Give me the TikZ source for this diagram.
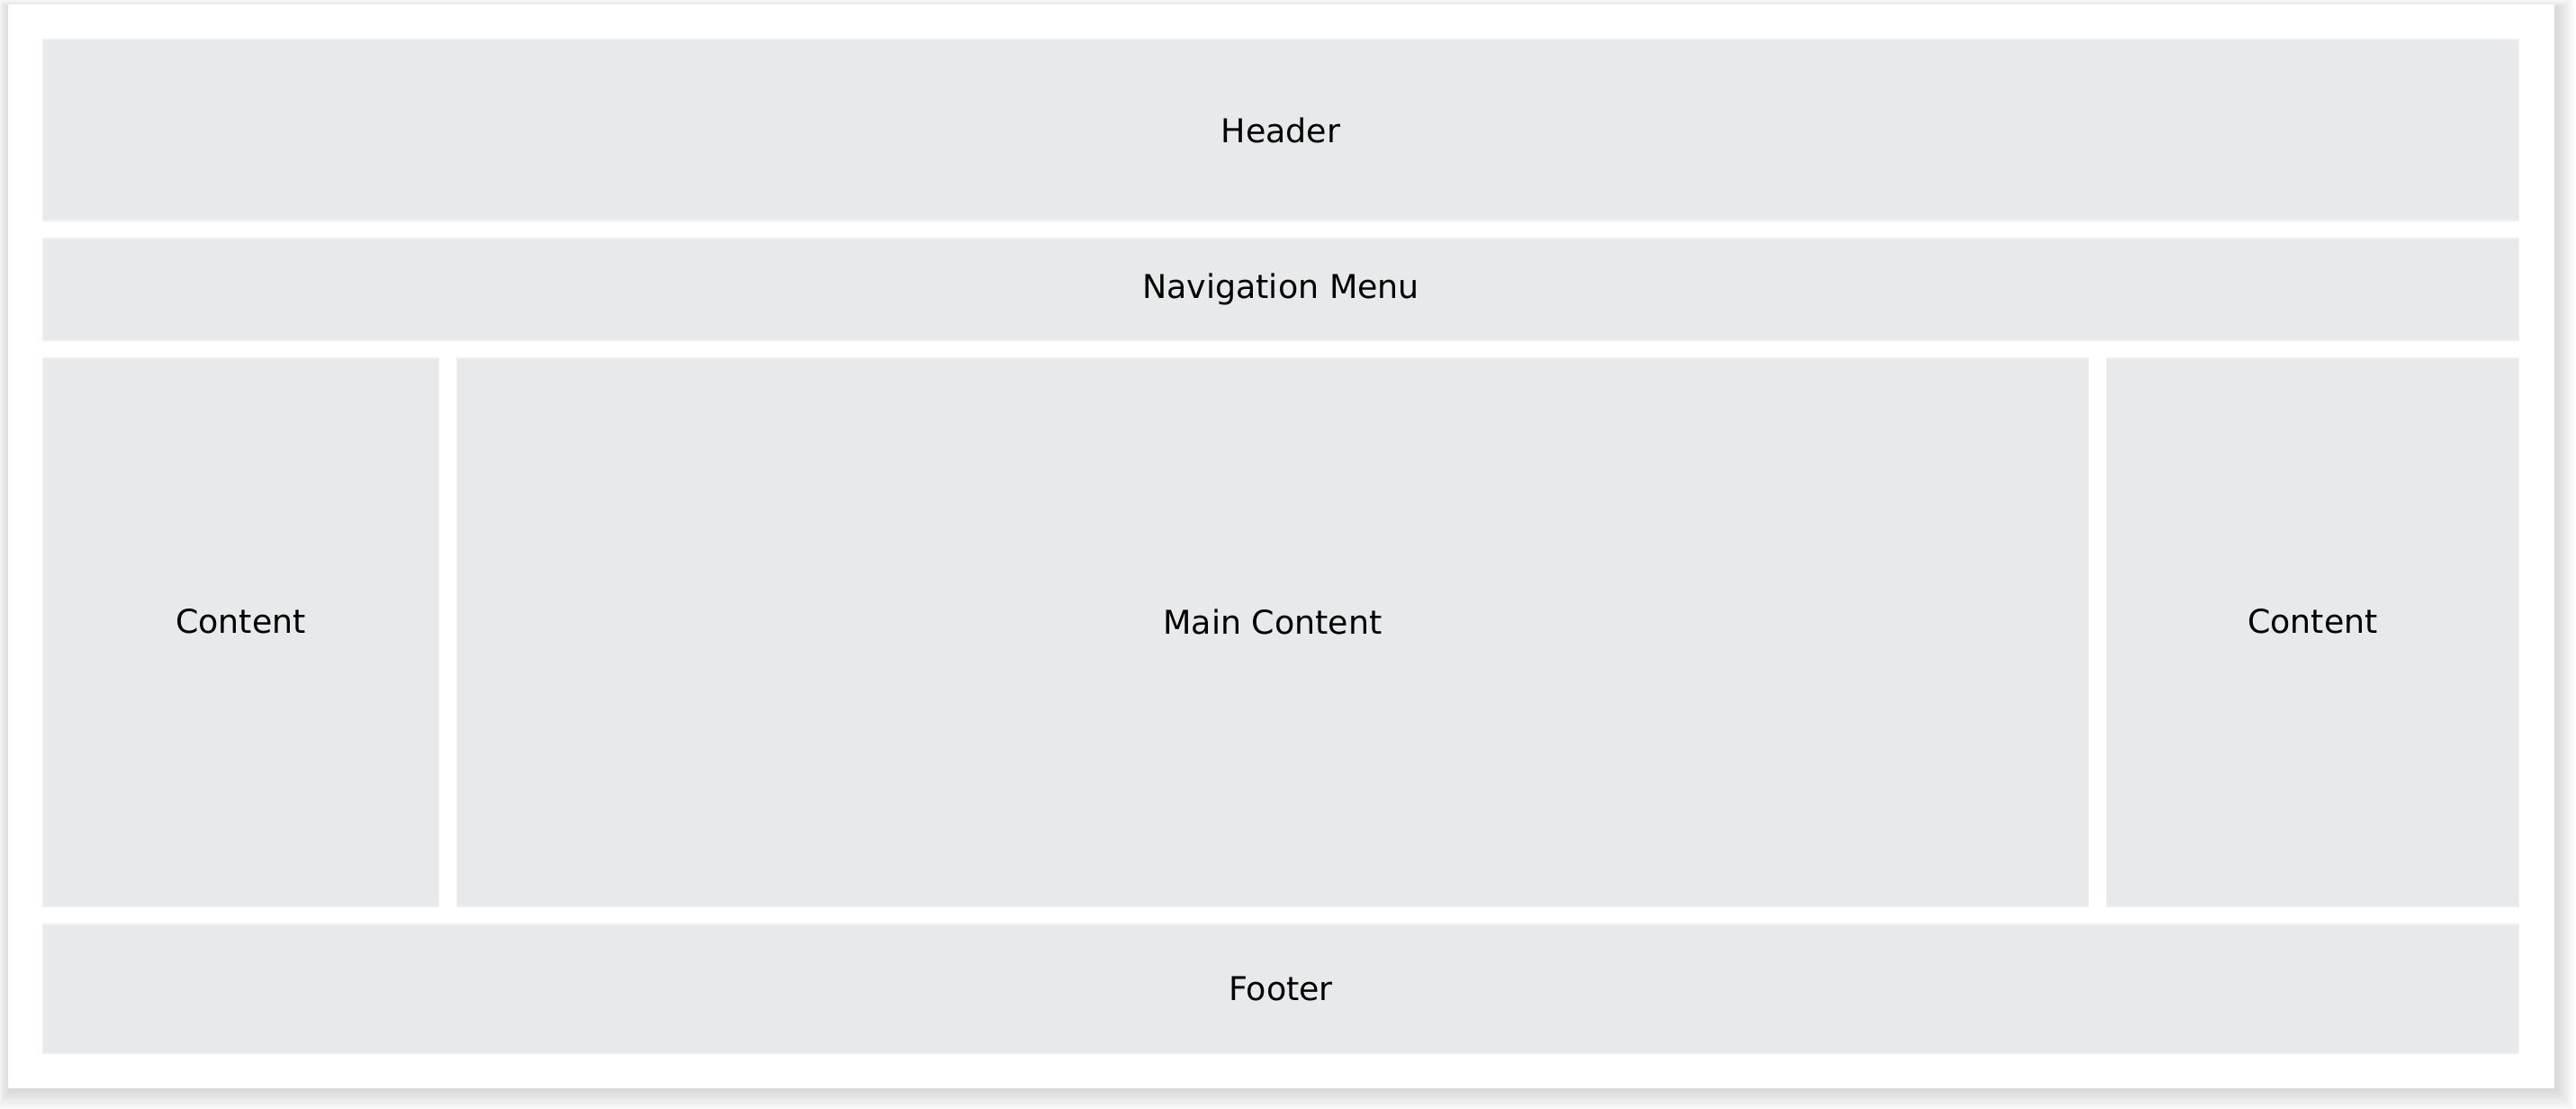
\documentclass[tikz,border=0pt]{standalone}
\usepackage{fontspec}
\setmainfont{DejaVu Sans}
\usepackage{tikz}
\usetikzlibrary{positioning}
\definecolor{boxgray}{HTML}{E8E9EB}
\definecolor{boxedge}{HTML}{EEEFF1}

\begin{document}
\begin{tikzpicture}[node distance=5pt,
  box/.style={rectangle, fill=boxgray, draw=boxedge, line width=0.3pt, inner sep=0pt, outer sep=0pt,
    font=\fontsize{9.1}{11}\selectfont, text=black},
  lbl/.style={inner sep=0pt, font=\fontsize{9.1}{11}\selectfont, text=black}]
  \useasboundingbox (0,0) rectangle (715.5pt,-308pt);
  % soft shadow of the page, heavier below and right
  \foreach \i in {1,...,10}
    \fill[black, opacity=0.02] (3.75pt-0.45pt*\i,-3.25pt+0.35pt*\i) rectangle (708pt+0.7pt*\i,-300.75pt-0.75pt*\i);
  \fill[white] (2.25pt,-1.25pt) rectangle (709.5pt,-302.25pt);
  \node[box, anchor=north west, minimum width=687.75pt, minimum height=50.25pt] (header) at (11.875pt,-11pt) {Header};
  \node[box, below=of header, minimum width=687.75pt, minimum height=28.25pt] (nav) {Navigation Menu};
  \node[box, below=of nav.south west, anchor=north west, minimum width=110pt, minimum height=152.25pt] (leftcol) {};
  \node[box, right=of leftcol, minimum width=453.25pt, minimum height=152.25pt] (maincol) {};
  \node[box, right=of maincol, minimum width=114.5pt, minimum height=152.25pt] (rightcol) {};
  \node[box, below=of leftcol.south west, anchor=north west, minimum width=687.75pt, minimum height=35.75pt] (footer) {Footer};
  % labels of the middle row sit a little high
  \node[lbl, yshift=3pt] (leftlbl) at (leftcol) {Content};
  \node[lbl, yshift=3pt] (mainlbl) at (maincol) {Main Content};
  \node[lbl, yshift=3pt] (rightlbl) at (rightcol) {Content};
\end{tikzpicture}
\end{document}
